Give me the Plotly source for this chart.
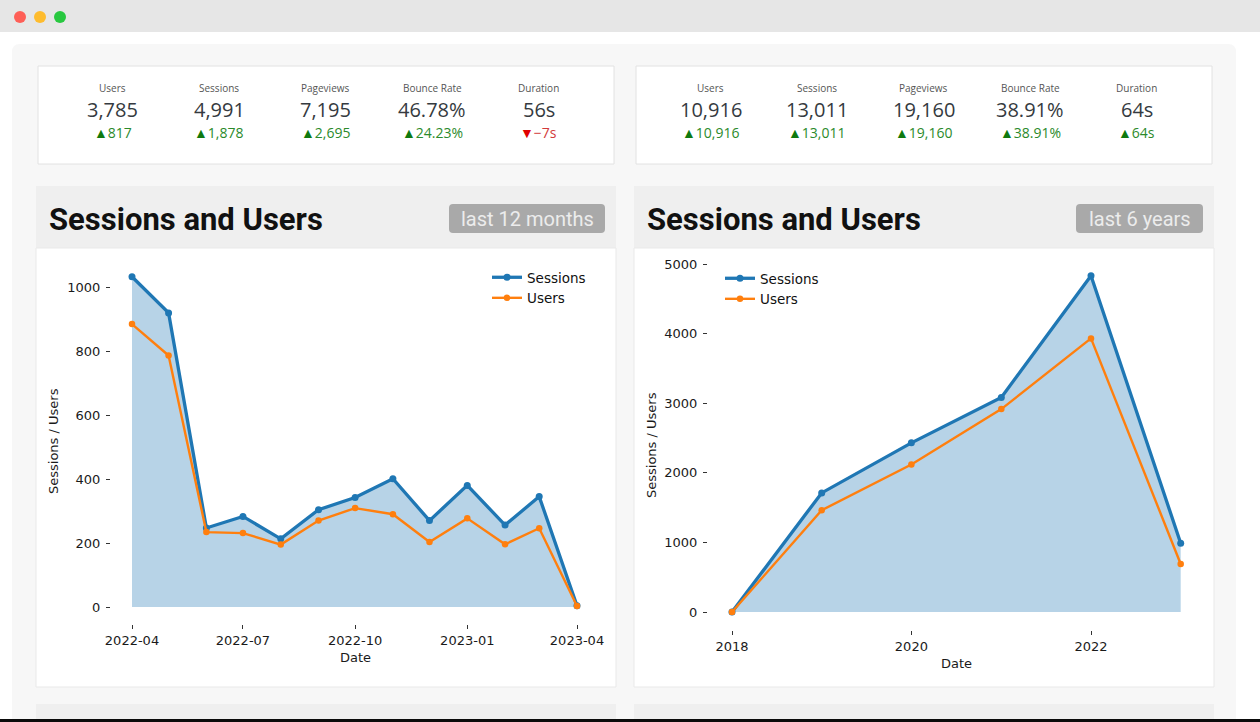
import plotly.graph_objects as go
import pandas as pd

# ---------------- data ----------------
stat_labels = ["Users", "Sessions", "Pageviews", "Bounce Rate", "Duration"]
stats_12m_values = ["3,785", "4,991", "7,195", "46.78%", "56s"]
stats_12m_deltas = ["817", "1,878", "2,695", "24.23%", "−7s"]
stats_12m_up = [True, True, True, True, False]
stats_6y_values = ["10,916", "13,011", "19,160", "38.91%", "64s"]
stats_6y_deltas = ["10,916", "13,011", "19,160", "38.91%", "64s"]
stats_6y_up = [True, True, True, True, True]

months = ["2022-04-01", "2022-05-01", "2022-06-01", "2022-07-01", "2022-08-01",
          "2022-09-01", "2022-10-01", "2022-11-01", "2022-12-01", "2023-01-01",
          "2023-02-01", "2023-03-01", "2023-04-01"]
sessions_12m = [1032, 919, 247, 283, 213, 304, 342, 401, 270, 380, 256, 345, 4]
users_12m = [884, 786, 234, 231, 195, 270, 309, 290, 203, 277, 196, 246, 3]
month_ticks = ["2022-04-01", "2022-07-01", "2022-10-01", "2023-01-01", "2023-04-01"]
month_tick_labels = ["2022-04", "2022-07", "2022-10", "2023-01", "2023-04"]
y_ticks_12m = [0, 200, 400, 600, 800, 1000]

years = ["2018-01-01", "2019-01-01", "2020-01-01", "2021-01-01", "2022-01-01", "2023-01-01"]
sessions_6y = [0, 1711, 2430, 3083, 4832, 988]
users_6y = [0, 1462, 2120, 2915, 3931, 690]
year_ticks = ["2018-01-01", "2020-01-01", "2022-01-01"]
year_tick_labels = ["2018", "2020", "2022"]
y_ticks_6y = [0, 1000, 2000, 3000, 4000, 5000]

panel_titles = ["Sessions and Users", "Sessions and Users"]
panel_badges = ["last 12 months", "last 6 years"]

# ---------------- layout helpers ----------------
W, H = 1260, 722


def X(x):
    return x / W


def Y(y):
    return 1 - y / H


def date_range(d0, p0, d1, p1, lo, hi):
    t0 = pd.Timestamp(d0).value / 1e6
    t1 = pd.Timestamp(d1).value / 1e6
    k = (t1 - t0) / (p1 - p0)
    a = pd.Timestamp(t0 + (lo - p0) * k, unit="ms")
    b = pd.Timestamp(t0 + (hi - p0) * k, unit="ms")
    return [a.strftime("%Y-%m-%d %H:%M:%S"), b.strftime("%Y-%m-%d %H:%M:%S")]


def val_range(v0, p0, v1, p1, bottom, top):
    k = (v1 - v0) / (p1 - p0)
    return [v0 + (bottom - p0) * k, v0 + (top - p0) * k]


def rect(x0, y0, x1, y1, fill, line=None):
    return dict(type="rect", xref="paper", yref="paper", x0=X(x0), x1=X(x1),
                y0=Y(y1), y1=Y(y0), fillcolor=fill, layer="below",
                line=dict(width=1 if line else 0, color=line or fill))


def rrect(x0, y0, x1, y1, r, fill):
    p = (f"M {X(x0 + r)},{Y(y0)} L {X(x1 - r)},{Y(y0)} Q {X(x1)},{Y(y0)} {X(x1)},{Y(y0 + r)} "
         f"L {X(x1)},{Y(y1 - r)} Q {X(x1)},{Y(y1)} {X(x1 - r)},{Y(y1)} "
         f"L {X(x0 + r)},{Y(y1)} Q {X(x0)},{Y(y1)} {X(x0)},{Y(y1 - r)} "
         f"L {X(x0)},{Y(y0 + r)} Q {X(x0)},{Y(y0)} {X(x0 + r)},{Y(y0)} Z")
    return dict(type="path", xref="paper", yref="paper", path=p, fillcolor=fill,
                line=dict(width=0), layer="below")


def circle(cx, cy, r, fill):
    return dict(type="circle", xref="paper", yref="paper", x0=X(cx - r), x1=X(cx + r),
                y0=Y(cy + r), y1=Y(cy - r), fillcolor=fill, line=dict(width=0), layer="below")


def ann(text, x, y, size, color, family, xanchor="center", yanchor="middle", angle=0):
    return dict(text=text, x=X(x), y=Y(y), xref="paper", yref="paper", showarrow=False,
                xanchor=xanchor, yanchor=yanchor, textangle=angle,
                font=dict(size=size, color=color, family=family))


BLUE = "#1f77b4"
ORANGE = "#ff7f0e"
FILL = "rgba(31,119,180,0.32)"
TICKFONT = dict(family="DejaVu Sans", size=13, color="#1a1a1a")

fig = go.Figure()

# ---- left chart (12 months) ----
fig.add_trace(go.Scatter(x=months, y=sessions_12m, mode="none", fill="tozeroy",
                         fillcolor=FILL, showlegend=False, hoverinfo="skip",
                         xaxis="x", yaxis="y"))
fig.add_trace(go.Scatter(x=months, y=sessions_12m, mode="lines+markers", name="Sessions",
                         line=dict(color=BLUE, width=3.3), marker=dict(size=7, color=BLUE),
                         cliponaxis=False, xaxis="x", yaxis="y", legend="legend"))
fig.add_trace(go.Scatter(x=months, y=users_12m, mode="lines+markers", name="Users",
                         line=dict(color=ORANGE, width=2.4), marker=dict(size=6.5, color=ORANGE),
                         cliponaxis=False, xaxis="x", yaxis="y", legend="legend"))

# ---- right chart (6 years) ----
fig.add_trace(go.Scatter(x=years, y=sessions_6y, mode="none", fill="tozeroy",
                         fillcolor=FILL, showlegend=False, hoverinfo="skip",
                         xaxis="x2", yaxis="y2"))
fig.add_trace(go.Scatter(x=years, y=sessions_6y, mode="lines+markers", name="Sessions",
                         line=dict(color=BLUE, width=3.3), marker=dict(size=7, color=BLUE),
                         cliponaxis=False, xaxis="x2", yaxis="y2", legend="legend2"))
fig.add_trace(go.Scatter(x=years, y=users_6y, mode="lines+markers", name="Users",
                         line=dict(color=ORANGE, width=2.4), marker=dict(size=6.5, color=ORANGE),
                         cliponaxis=False, xaxis="x2", yaxis="y2", legend="legend2"))

axis_common = dict(showgrid=False, zeroline=False, showline=False, ticks="outside",
                   ticklen=4, tickwidth=1, tickcolor="#333", tickfont=TICKFONT,
                   automargin=False, fixedrange=True)

# pixel geometry of the two plot areas
L_dom = (111, 600, 624, 262)   # x0, x1, ybottom, ytop
R_dom = (708, 1205, 630, 255)

fig.update_layout(
    xaxis=dict(domain=[X(L_dom[0]), X(L_dom[1])], anchor="y", type="date",
               range=date_range("2022-04-01", 132, "2023-04-01", 577, L_dom[0], L_dom[1]),
               tickvals=month_ticks, ticktext=month_tick_labels, **axis_common),
    yaxis=dict(domain=[Y(L_dom[2]), Y(L_dom[3])], anchor="x",
               range=val_range(0, 607, 1000, 287, L_dom[2], L_dom[3]),
               tickvals=y_ticks_12m, ticklabelstandoff=3, **axis_common),
    xaxis2=dict(domain=[X(R_dom[0]), X(R_dom[1])], anchor="y2", type="date",
                range=date_range("2018-01-01", 732, "2022-01-01", 1091, R_dom[0], R_dom[1]),
                tickvals=year_ticks, ticktext=year_tick_labels, **axis_common),
    yaxis2=dict(domain=[Y(R_dom[2]), Y(R_dom[3])], anchor="x2",
                range=val_range(0, 612, 5000, 264, R_dom[2], R_dom[3]),
                tickvals=y_ticks_6y, ticklabelstandoff=3, **axis_common),
    legend=dict(x=X(487), y=Y(262), xanchor="left", yanchor="top",
                bgcolor="rgba(0,0,0,0)", font=dict(family="DejaVu Sans", size=13.5, color="#111"),
                tracegroupgap=0),
    legend2=dict(x=X(720), y=Y(263), xanchor="left", yanchor="top",
                 bgcolor="rgba(0,0,0,0)", font=dict(family="DejaVu Sans", size=13.5, color="#111"),
                 tracegroupgap=0),
    width=W, height=H, margin=dict(l=0, r=0, t=0, b=0),
    paper_bgcolor="white", plot_bgcolor="rgba(0,0,0,0)", template="none",
    hovermode=False,
)

# ---------------- page chrome ----------------
shapes = [
    rect(0, 0, 1260, 32, "#e6e6e6"),
    circle(20, 17, 6, "#fe5f57"),
    circle(40, 17, 6, "#febc2e"),
    circle(60, 17, 6, "#28c840"),
    rrect(12, 44, 1236, 740, 8, "#f7f7f7"),
]
cards = [(38, 614), (636, 1212)]
panels = [(36, 616), (634, 1214)]
badges = [(449, 605), (1076, 1203)]
for (c0, c1) in cards:
    shapes.append(rect(c0, 66, c1, 164, "white", "#e2e2e2"))
for (p0, p1) in panels:
    shapes.append(rect(p0, 186, p1, 248, "#efefef"))
    shapes.append(rect(p0, 248, p1, 687, "white", "#e9e9e9"))
    shapes.append(rect(p0, 704, p1, 722, "#efefef"))
for (b0, b1) in badges:
    shapes.append(rrect(b0, 204, b1, 233, 4, "#a9a9a9"))
shapes.append(rect(0, 719, 1260, 722, "#0a0a0a"))

annotations = []
STATFONT = "Open Sans"
stat_sets = [(stats_12m_values, stats_12m_deltas, stats_12m_up),
             (stats_6y_values, stats_6y_deltas, stats_6y_up)]
for (c0, c1), (vals, deltas, ups) in zip(cards, stat_sets):
    for i, lab in enumerate(stat_labels):
        cx = c0 + 74.5 + i * 106.6
        annotations.append(ann(lab, cx, 88, 10, "#555", STATFONT))
        annotations.append(ann(vals[i], cx, 109, 20, "#353a40", STATFONT))
        if ups[i]:
            t = f"<span style='color:#0f7a0f'>▲</span>{deltas[i]}"
            col = "#2b8a2b"
        else:
            t = f"<span style='color:#e00000'>▼</span>{deltas[i]}"
            col = "#d23a3a"
        annotations.append(ann(t, cx, 132, 14, col, STATFONT))

for (p0, p1), (b0, b1), title, badge in zip(panels, badges, panel_titles, panel_badges):
    annotations.append(ann(f"<b>{title}</b>", p0 + 11, 219, 31, "#111", "Roboto",
                           xanchor="left"))
    annotations.append(ann(badge, (b0 + b1) / 2, 219, 20, "#ececec", "Roboto"))

annotations.append(ann("Sessions / Users", 53, 441, 13, "#1a1a1a", "DejaVu Sans", angle=-90))
annotations.append(ann("Date", 355, 657, 13, "#1a1a1a", "DejaVu Sans"))
annotations.append(ann("Sessions / Users", 651, 445, 13, "#1a1a1a", "DejaVu Sans", angle=-90))
annotations.append(ann("Date", 956, 663, 13, "#1a1a1a", "DejaVu Sans"))

fig.update_layout(shapes=shapes, annotations=annotations)

fig.write_html("out.html", config={"displayModeBar": False},
               post_script="document.body.style.margin='0';")
